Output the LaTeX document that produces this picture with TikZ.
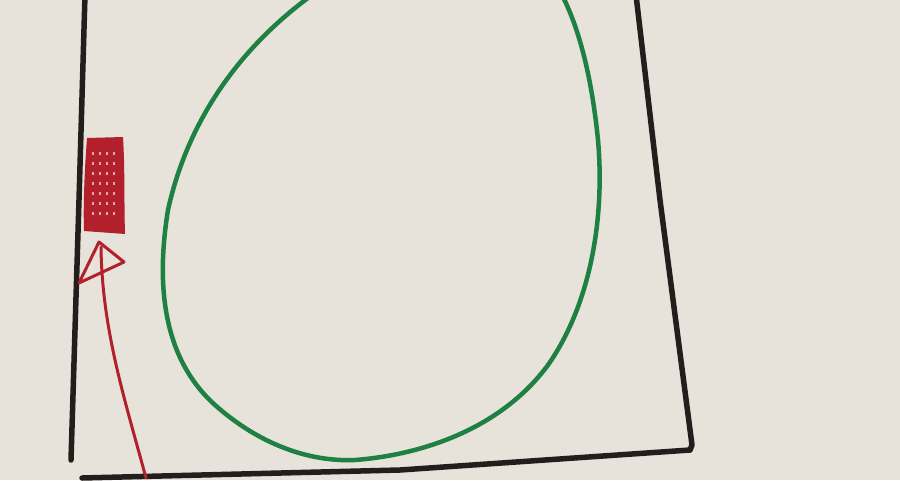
\documentclass[tikz,border=0pt]{standalone}
\begin{document}
\begin{tikzpicture}[x=1pt,y=-1pt,
  inkblack/.style={draw=penblack,line width=5.5pt,line cap=round,line join=round},
  inkgreen/.style={draw=pengreen,line width=4.5pt,line cap=round,line join=round},
  inkred/.style={draw=penred,line width=3pt,line cap=round,line join=round}]
\definecolor{paper}{RGB}{231,226,218}
\definecolor{penblack}{RGB}{35,30,28}
\definecolor{pengreen}{RGB}{30,128,66}
\definecolor{penred}{RGB}{178,32,44}
\fill[paper] (0,0) rectangle (900,480);
\useasboundingbox (0,0) rectangle (900,480);
% box walls
\draw[inkblack] (85,-5) -- (79,200) -- (71,460);
\draw[inkblack] (636,-5) -- (660,200) -- (692,445) -- (690,450);
\draw[inkblack] (82,478) -- (400,470) -- (690,450);
% green loop
\draw[inkgreen] (312,-5) .. controls (250,40) and (190,110) .. (168,210)
  .. controls (155,290) and (165,360) .. (215,405)
  .. controls (260,445) and (310,462) .. (355,460)
  .. controls (420,455) and (500,430) .. (548,365)
  .. controls (590,305) and (605,220) .. (598,140)
  .. controls (592,80) and (580,30) .. (562,-5);
% red block
\fill[penred] (87,138) -- (123,137) .. controls (125,170) and (124,200) .. (125,234)
  -- (84,231) .. controls (83,200) and (85,165) .. (87,138) -- cycle;
\foreach \xx in {92,99,106,113} \foreach \yy in {152,162,172,182,192,202,212}
  \fill[white!60!penred] (\xx,\yy) rectangle ++(2,3);
% red arrow
\draw[inkred] (146,478) .. controls (125,400) and (102,330) .. (101,247);
\draw[inkred] (99,242) -- (124,262) -- (79,283) -- cycle;
\end{tikzpicture}
\end{document}
